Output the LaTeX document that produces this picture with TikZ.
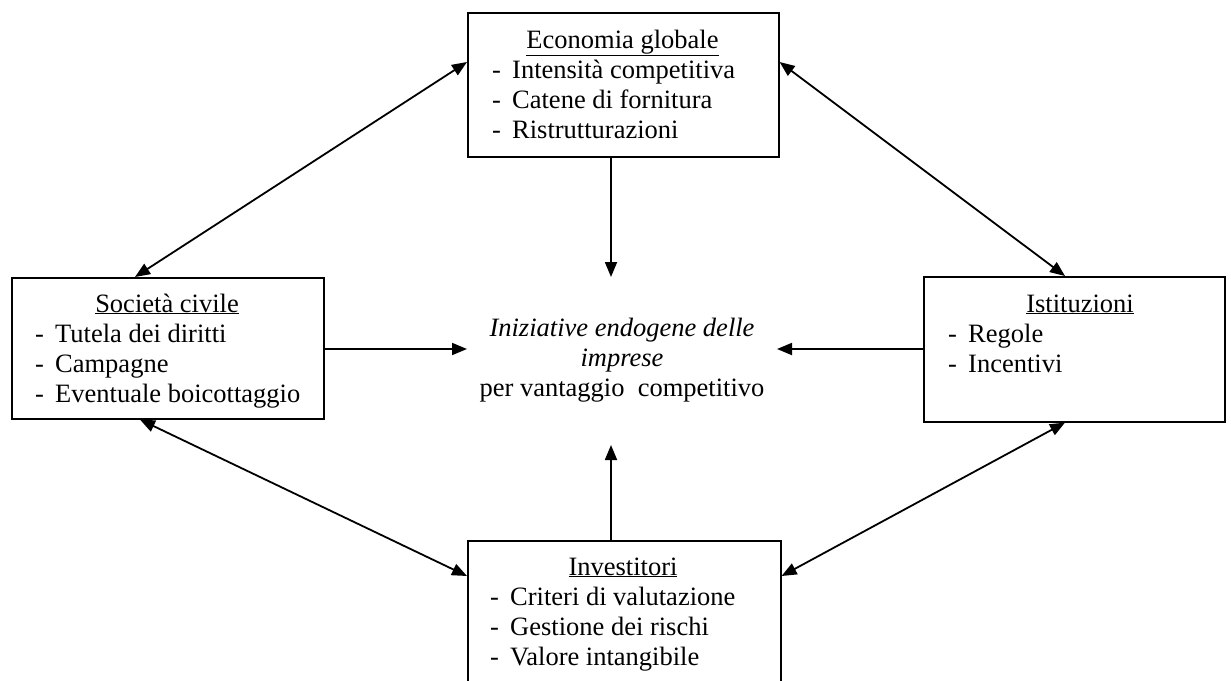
\documentclass[tikz,border=0pt]{standalone}
\usepackage{fontspec}
\setmainfont{Liberation Serif}
\usetikzlibrary{arrows.meta}
\tikzset{
  box/.style={draw, line width=1.6pt, rectangle, inner sep=0pt, anchor=north west},
  ttl/.style={anchor=base, inner sep=0pt, font=\fontsize{26.5pt}{30pt}\selectfont},
  items/.style={anchor=base west, inner sep=0pt, font=\fontsize{26.5pt}{30pt}\selectfont},
  ctext/.style={align=center, inner sep=0pt, font=\fontsize{26.5pt}{30pt}\selectfont},
  arr/.style={line width=1.8pt, -{Triangle[length=15pt,width=12pt]}},
  darr/.style={line width=1.8pt, {Triangle[length=15pt,width=12pt]}-{Triangle[length=15pt,width=12pt]}}
}
\newcommand{\itm}[1]{\makebox[20pt][l]{-}#1}
\newcommand{\itemlist}[1]{\begin{tabular}[t]{@{}l@{}}#1\end{tabular}}
\begin{document}
\begin{tikzpicture}[x=1pt,y=-1pt]
\clip (0,0) rectangle (1231,680);
\fill[white] (0,0) rectangle (1231,680);
% boxes
\node[box, minimum width=311pt, minimum height=144pt] (eco) at (467,12) {};
\node[box, minimum width=312pt, minimum height=141pt] (soc) at (11,277) {};
\node[box, minimum width=301pt, minimum height=145pt] (ist) at (923,276) {};
\node[box, minimum width=313pt, minimum height=160pt] (inv) at (467,540) {};
% texts
\node[ttl] (ecoT) at (622.5,48) {\underline{Economia globale}};
\node[items] (ecoI) at (492,78) {\itemlist{\itm{Intensità competitiva}\\\itm{Catene di fornitura}\\\itm{Ristrutturazioni}}};
\node[ttl] (socT) at (167,312) {\underline{Società civile}};
\node[items] (socI) at (35,342) {\itemlist{\itm{Tutela dei diritti}\\\itm{Campagne}\\\itm{Eventuale boicottaggio}}};
\node[ttl] (istT) at (1080,312) {\underline{Istituzioni}};
\node[items] (istI) at (948,342) {\itemlist{\itm{Regole}\\\itm{Incentivi}}};
\node[ttl] (invT) at (623,575) {\underline{Investitori}};
\node[items] (invI) at (490,605) {\itemlist{\itm{Criteri di valutazione}\\\itm{Gestione dei rischi}\\\itm{Valore intangibile}}};
\node[ctext] (ctr) at (622,360) {\textit{Iniziative endogene delle}\\\textit{imprese}\\per vantaggio\ \ competitivo};
% arrow tips near centre
\coordinate (tT) at (611,277);
\coordinate (tB) at (611,445);
\coordinate (tL) at (467,349);
\coordinate (tR) at (777,349);
% arrows
\draw[arr] (eco.south -| tT) -- (tT);
\draw[arr] (inv.north -| tB) -- (tB);
\draw[arr] (soc.east |- tL) -- (tL);
\draw[arr] (ist.west |- tR) -- (tR);
\draw[darr] ([yshift=-50pt]eco.north west) -- ([xshift=124pt]soc.north west);
\draw[darr] ([yshift=-50pt]eco.north east) -- ([xshift=142pt]ist.north west);
\draw[darr] ([xshift=129pt]soc.south west) -- ([yshift=-36pt]inv.north west);
\draw[darr] ([xshift=142pt]ist.south west) -- ([yshift=-36pt]inv.north east);
\end{tikzpicture}
\end{document}
